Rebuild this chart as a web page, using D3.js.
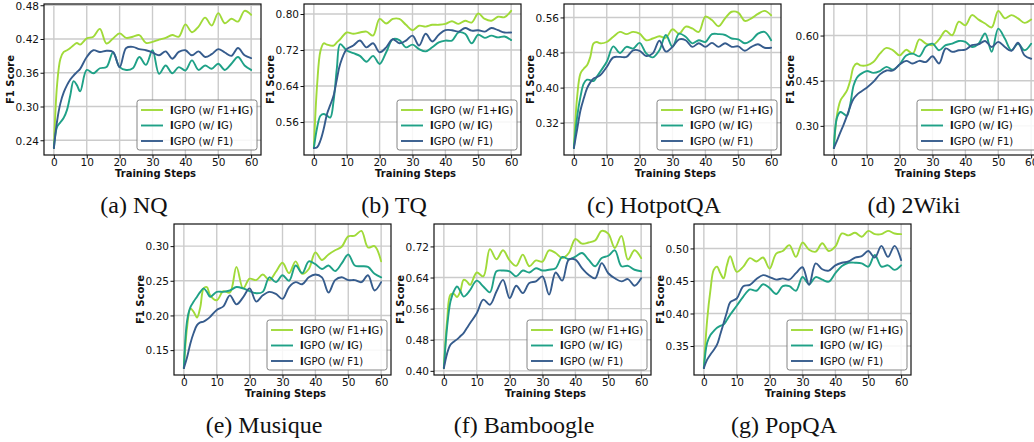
<!DOCTYPE html>
<html><head><meta charset="utf-8">
<script src="https://cdn.jsdelivr.net/npm/d3@7"></script>
<style>body{margin:0;background:#fff}svg{display:block}</style>
</head><body>
<svg id="c" width="1034" height="442"></svg>
<script>
// ---------- data ----------
const steps = [0,1,2,3,4,5,6,7,8,10,12,14,16,18,20,22,24,26,28,30,32,34,36,38,40,42,44,46,48,50,52,54,56,58,60];
const xTicks = [0,10,20,30,40,50,60];
const seriesNames = ["IGPO (w/ F1+IG)","IGPO (w/ IG)","IGPO (w/ F1)"];
const seriesColors = ["#a0da39","#1fa187","#365c8d"];

// (a) NQ
const nqF1IG = [0.226,0.340,0.385,0.397,0.400,0.404,0.409,0.413,0.410,0.421,0.424,0.438,0.412,0.421,0.430,0.422,0.424,0.427,0.413,0.415,0.419,0.422,0.427,0.424,0.446,0.432,0.442,0.458,0.444,0.466,0.448,0.456,0.451,0.470,0.463];
const nqIG   = [0.226,0.264,0.272,0.280,0.294,0.320,0.345,0.338,0.327,0.365,0.359,0.368,0.370,0.396,0.370,0.365,0.368,0.388,0.374,0.400,0.358,0.373,0.359,0.370,0.364,0.382,0.365,0.373,0.367,0.376,0.365,0.376,0.388,0.373,0.365];
const nqF1   = [0.226,0.275,0.306,0.325,0.338,0.348,0.355,0.361,0.367,0.388,0.400,0.397,0.399,0.397,0.370,0.404,0.406,0.402,0.400,0.396,0.391,0.398,0.385,0.397,0.400,0.391,0.398,0.388,0.393,0.402,0.396,0.390,0.404,0.391,0.386];
const nqTicks = [0.24,0.30,0.36,0.42,0.48];
// (b) TQ
const tqF1IG = [0.502,0.644,0.718,0.735,0.732,0.730,0.730,0.737,0.744,0.759,0.756,0.759,0.761,0.752,0.789,0.779,0.789,0.789,0.776,0.764,0.774,0.772,0.776,0.776,0.778,0.784,0.778,0.785,0.781,0.801,0.789,0.785,0.794,0.793,0.807];
const tqIG   = [0.502,0.548,0.574,0.578,0.574,0.570,0.607,0.680,0.733,0.719,0.713,0.707,0.694,0.707,0.689,0.715,0.744,0.742,0.726,0.732,0.722,0.717,0.726,0.737,0.741,0.741,0.759,0.756,0.735,0.754,0.747,0.752,0.748,0.750,0.742];
const tqF1   = [0.502,0.504,0.519,0.545,0.578,0.598,0.619,0.655,0.689,0.722,0.730,0.741,0.726,0.735,0.715,0.726,0.744,0.735,0.741,0.752,0.730,0.756,0.739,0.754,0.764,0.764,0.761,0.769,0.763,0.764,0.761,0.769,0.764,0.759,0.759];
const tqTicks = [0.56,0.64,0.72,0.80];
// (c) HotpotQA
const hpF1IG = [0.262,0.379,0.432,0.443,0.451,0.470,0.501,0.504,0.501,0.504,0.516,0.527,0.522,0.527,0.523,0.508,0.512,0.517,0.514,0.533,0.523,0.539,0.535,0.527,0.562,0.554,0.540,0.558,0.573,0.571,0.552,0.558,0.568,0.575,0.565];
const hpIG   = [0.262,0.333,0.379,0.409,0.418,0.417,0.415,0.425,0.436,0.459,0.494,0.479,0.493,0.489,0.502,0.478,0.469,0.485,0.520,0.493,0.523,0.516,0.501,0.508,0.504,0.522,0.522,0.520,0.512,0.510,0.501,0.508,0.523,0.527,0.508];
const hpF1   = [0.262,0.305,0.348,0.375,0.398,0.412,0.421,0.424,0.428,0.447,0.469,0.470,0.470,0.485,0.484,0.472,0.478,0.507,0.482,0.493,0.510,0.508,0.493,0.501,0.493,0.502,0.493,0.501,0.493,0.494,0.484,0.493,0.499,0.491,0.491];
const hpTicks = [0.32,0.40,0.48,0.56];
// (d) 2Wiki
const wkF1IG = [0.226,0.340,0.384,0.401,0.418,0.451,0.496,0.507,0.501,0.501,0.512,0.540,0.559,0.551,0.534,0.553,0.540,0.587,0.573,0.568,0.587,0.616,0.601,0.646,0.634,0.668,0.653,0.640,0.627,0.682,0.657,0.668,0.657,0.642,0.653];
const wkIG   = [0.226,0.329,0.346,0.340,0.334,0.373,0.434,0.460,0.471,0.482,0.476,0.482,0.496,0.487,0.504,0.534,0.540,0.531,0.564,0.573,0.551,0.568,0.573,0.582,0.579,0.562,0.573,0.607,0.546,0.623,0.590,0.551,0.573,0.551,0.573];
const wkF1   = [0.226,0.252,0.279,0.305,0.334,0.365,0.390,0.403,0.412,0.427,0.446,0.471,0.484,0.484,0.504,0.516,0.507,0.516,0.512,0.531,0.507,0.557,0.546,0.551,0.553,0.568,0.571,0.582,0.562,0.579,0.562,0.549,0.576,0.534,0.523];
const wkTicks = [0.30,0.45,0.60];
// (e) Musique
const muF1IG = [0.124,0.184,0.210,0.205,0.197,0.212,0.239,0.241,0.229,0.222,0.235,0.233,0.270,0.239,0.253,0.251,0.259,0.251,0.263,0.276,0.261,0.278,0.260,0.267,0.291,0.280,0.288,0.294,0.299,0.314,0.315,0.322,0.298,0.300,0.278];
const muIG   = [0.124,0.193,0.212,0.220,0.227,0.234,0.239,0.234,0.227,0.234,0.234,0.236,0.241,0.239,0.235,0.232,0.234,0.255,0.248,0.258,0.250,0.272,0.261,0.278,0.274,0.267,0.272,0.264,0.275,0.288,0.272,0.271,0.270,0.260,0.255];
const muF1   = [0.124,0.140,0.160,0.175,0.186,0.190,0.191,0.194,0.198,0.208,0.213,0.229,0.216,0.226,0.239,0.220,0.229,0.234,0.231,0.224,0.241,0.248,0.245,0.255,0.259,0.255,0.233,0.251,0.255,0.251,0.251,0.248,0.258,0.236,0.248];
const muTicks = [0.15,0.20,0.25,0.30];
// (f) Bamboogle
const bbF1IG = [0.407,0.531,0.596,0.598,0.590,0.604,0.634,0.630,0.621,0.653,0.643,0.713,0.687,0.710,0.684,0.670,0.699,0.669,0.684,0.681,0.710,0.703,0.690,0.703,0.739,0.727,0.730,0.735,0.760,0.753,0.716,0.747,0.686,0.710,0.690];
const bbIG   = [0.407,0.514,0.578,0.604,0.617,0.605,0.591,0.597,0.608,0.632,0.617,0.602,0.656,0.658,0.656,0.643,0.658,0.653,0.664,0.658,0.660,0.664,0.693,0.687,0.694,0.703,0.686,0.669,0.690,0.696,0.710,0.669,0.670,0.660,0.656];
const bbF1   = [0.407,0.445,0.467,0.475,0.481,0.489,0.497,0.510,0.523,0.548,0.583,0.570,0.604,0.634,0.587,0.619,0.600,0.626,0.630,0.643,0.596,0.653,0.632,0.686,0.686,0.664,0.647,0.638,0.677,0.651,0.638,0.630,0.636,0.619,0.638];
const bbTicks = [0.40,0.48,0.56,0.64,0.72];
// (g) PopQA
const pqF1IG = [0.316,0.390,0.436,0.467,0.472,0.462,0.454,0.474,0.488,0.464,0.472,0.485,0.480,0.486,0.469,0.492,0.496,0.505,0.487,0.509,0.498,0.495,0.508,0.496,0.503,0.523,0.520,0.524,0.518,0.527,0.522,0.522,0.527,0.523,0.522];
const pqIG   = [0.316,0.355,0.367,0.373,0.378,0.381,0.383,0.390,0.398,0.412,0.426,0.437,0.435,0.445,0.439,0.430,0.442,0.442,0.435,0.456,0.445,0.456,0.452,0.449,0.462,0.473,0.478,0.478,0.477,0.472,0.490,0.472,0.474,0.467,0.474];
const pqF1   = [0.316,0.329,0.337,0.344,0.352,0.368,0.385,0.402,0.417,0.423,0.442,0.444,0.453,0.459,0.456,0.452,0.454,0.452,0.462,0.471,0.444,0.477,0.468,0.466,0.474,0.478,0.480,0.486,0.488,0.496,0.486,0.504,0.487,0.504,0.482];
const pqTicks = [0.35,0.40,0.45,0.50];

const captions = ["(a) NQ","(b) TQ","(c) HotpotQA","(d) 2Wiki","(e) Musique","(f) Bamboogle","(g) PopQA"];
const panelSeries = [[nqF1IG,nqIG,nqF1],[tqF1IG,tqIG,tqF1],[hpF1IG,hpIG,hpF1],[wkF1IG,wkIG,wkF1],[muF1IG,muIG,muF1],[bbF1IG,bbIG,bbF1],[pqF1IG,pqIG,pqF1]];
const panelTicks = [nqTicks,tqTicks,hpTicks,wkTicks,muTicks,bbTicks,pqTicks];

// ---------- layout ----------
const W = 217, H = 151;
const origins = [[44,4],[304,4],[564,4],[824,4],[174,224],[434,224],[694,224]];
const tickFont = "10.5px";
const fam = "'DejaVu Sans', sans-serif";

const svg = d3.select("#c");
svg.append("rect").attr("width",1034).attr("height",442).attr("fill","#fff");

panelSeries.forEach((series, p) => {
  const [ox, oy] = origins[p];
  const g = svg.append("g").attr("transform", `translate(${ox},${oy})`);
  const x = d3.scaleLinear().domain([-3, 63]).range([0, W]);
  const ext = d3.extent(series.flat());
  const pad = (ext[1] - ext[0]) * 0.05;
  const y = d3.scaleLinear().domain([ext[0] - pad, ext[1] + pad]).range([H, 0]);
  const yt = panelTicks[p];

  // grid
  g.append("g").selectAll("line").data(xTicks).join("line")
    .attr("x1", d => x(d)).attr("x2", d => x(d)).attr("y1", 0).attr("y2", H)
    .attr("stroke", "#cbcbcb").attr("stroke-width", 1.4);
  g.append("g").selectAll("line").data(yt).join("line")
    .attr("x1", 0).attr("x2", W).attr("y1", d => y(d)).attr("y2", d => y(d))
    .attr("stroke", "#cbcbcb").attr("stroke-width", 1.4);

  // clip
  const cid = "clip" + p;
  g.append("clipPath").attr("id", cid).append("rect").attr("width", W).attr("height", H);

  const line = d3.line().x((d, i) => x(steps[i])).y(d => y(d)).curve(d3.curveCatmullRom.alpha(0.5));
  series.forEach((s, k) => {
    g.append("path").datum(s).attr("clip-path", `url(#${cid})`)
      .attr("fill", "none").attr("stroke", seriesColors[k]).attr("stroke-width", 1.9)
      .attr("stroke-linejoin", "round").attr("stroke-linecap", "round").attr("d", line);
  });

  // frame
  g.append("rect").attr("width", W).attr("height", H).attr("fill", "none")
    .attr("stroke", "#111").attr("stroke-width", 1.2);

  // axes
  const ax = g.append("g").attr("transform", `translate(0,${H})`)
    .call(d3.axisBottom(x).tickValues(xTicks).tickSize(3.5).tickSizeOuter(0).tickFormat(d3.format("d")));
  ax.select(".domain").remove();
  ax.selectAll("line").attr("stroke", "#111").attr("stroke-width", 1);
  ax.selectAll("text").attr("y", 10.5).attr("dy", null)
    .attr("font-family", fam).attr("font-size", tickFont).attr("fill", "#111");

  const ay = g.append("g")
    .call(d3.axisLeft(y).tickValues(yt).tickSize(3.5).tickSizeOuter(0).tickFormat(d3.format(".2f")));
  ay.select(".domain").remove();
  ay.selectAll("line").attr("stroke", "#111").attr("stroke-width", 1);
  ay.selectAll("text").attr("x", -5).attr("dy", "0.36em")
    .attr("font-family", fam).attr("font-size", tickFont).attr("fill", "#111");

  // axis titles
  g.append("text").attr("x", W / 2 + 3).attr("y", H + 21.5).attr("text-anchor", "middle")
    .attr("font-family", fam).attr("font-weight", "bold").attr("font-size", "10px").attr("fill", "#111")
    .text("Training Steps");
  g.append("text").attr("transform", `translate(-30.5,${H / 2}) rotate(-90)`).attr("text-anchor", "middle")
    .attr("font-family", fam).attr("font-weight", "bold").attr("font-size", "10px").attr("fill", "#111")
    .text("F1 Score");

  // legend
  const lx = W - 124, ly = H - 55;
  const lg = g.append("g").attr("transform", `translate(${lx},${ly})`);
  lg.append("rect").attr("width", 120).attr("height", 50).attr("rx", 2.5)
    .attr("fill", "#fff").attr("fill-opacity", 0.85).attr("stroke", "#777").attr("stroke-width", 0.9);
  seriesNames.forEach((name, k) => {
    const cy = 10 + k * 15.5;
    lg.append("line").attr("x1", 4).attr("x2", 26).attr("y1", cy).attr("y2", cy)
      .attr("stroke", seriesColors[k]).attr("stroke-width", 1.9);
    const t = lg.append("text").attr("x", 33).attr("y", cy + 3.6)
      .attr("font-family", fam).attr("font-size", "10px").attr("fill", "#111");
    name.split(/(I)/).filter(s => s.length).forEach(part => {
      t.append("tspan").attr("font-weight", part === "I" ? "bold" : "normal").text(part);
    });
  });

  // caption
  svg.append("text").attr("x", ox + 90).attr("y", oy + H + 58).attr("text-anchor", "middle")
    .attr("font-family", "'Liberation Serif', 'Times New Roman', serif").attr("font-size", "24px").attr("fill", "#111")
    .text(captions[p]);
});
</script>
</body></html>
